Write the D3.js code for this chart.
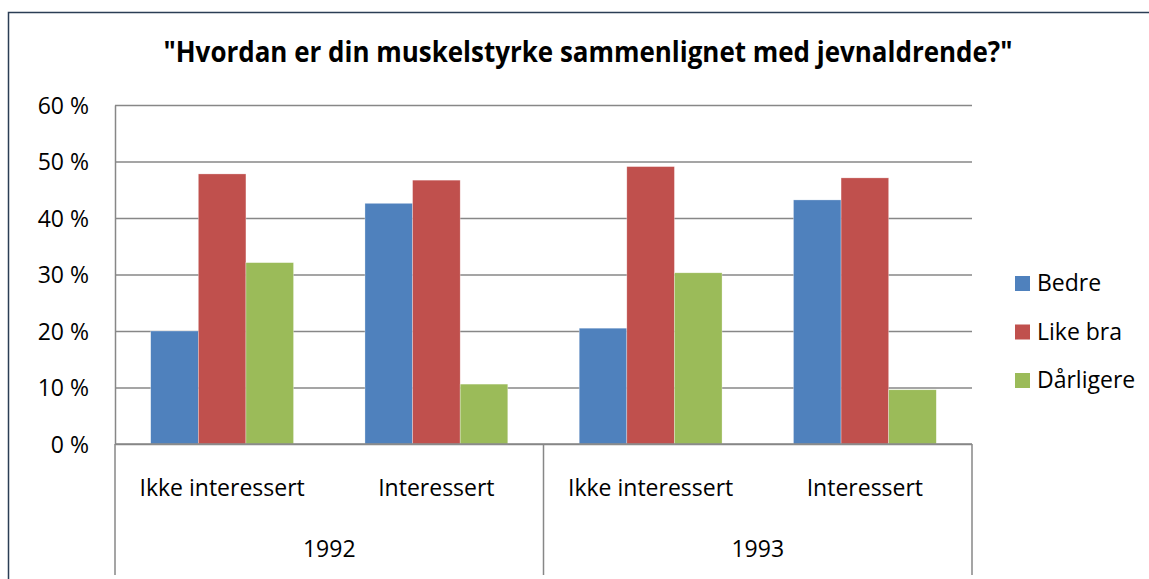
<!DOCTYPE html>
<html>
<head>
<meta charset="utf-8">
<script src="https://cdn.jsdelivr.net/npm/d3@7"></script>
<style>
  body { margin: 0; background: #fff; }
  text { font-family: "Open Sans", "Noto Sans", sans-serif; fill: #000; }
</style>
</head>
<body>
<script>
var W = 1149, H = 579;

// data
var years = ["1992", "1993"];
var groups = ["Ikke interessert", "Interessert"];
var seriesNames = ["Bedre", "Like bra", "Dårligere"];
var bedre    = [0.200, 0.426, 0.205, 0.432];
var likeBra  = [0.478, 0.467, 0.491, 0.471];
var darligere = [0.321, 0.106, 0.303, 0.096];
var yTicks = [0, 0.1, 0.2, 0.3, 0.4, 0.5, 0.6];
var colors = ["#4F81BD", "#C0504D", "#9BBB59"];

var title = "\"Hvordan er din muskelstyrke sammenlignet med jevnaldrende?\"";

var seriesValues = [bedre, likeBra, darligere];

// one entry per bar-cluster: year + group
var cats = [];
years.forEach(function (yr) {
    groups.forEach(function (g) { cats.push({year: yr, group: g, key: yr + "|" + g}); });
});

var plot = {left: 115, right: 972, top: 105, bottom: 444};

var svg = d3.select("body").append("svg")
    .attr("width", W)
    .attr("height", H);

// chart area border (only top and left visible in frame)
svg.append("path")
   .attr("d", "M8.5," + (H + 5) + "V12.5H" + (W + 5))
   .attr("fill", "none")
   .attr("stroke", "#2b3d55")
   .attr("stroke-width", 1.5);

var x0 = d3.scaleBand()
    .domain(cats.map(d => d.key))
    .range([plot.left, plot.right]);

var x1 = d3.scaleBand()
    .domain(seriesNames)
    .range([0, x0.bandwidth()])
    .paddingOuter(0.75);

var y = d3.scaleLinear()
    .domain([0, 0.6])
    .range([plot.bottom, plot.top]);

// gridlines
svg.append("g")
   .attr("transform", "translate(" + plot.left + ",0)")
   .call(d3.axisLeft(y).tickValues(yTicks).tickSize(-(plot.right - plot.left)).tickFormat(""))
   .call(g => g.select(".domain").remove())
   .call(g => g.selectAll("line").attr("stroke", "#878787").attr("stroke-width", 1.5));

// y labels
var yAxis = svg.append("g")
   .attr("transform", "translate(" + plot.left + ",0)")
   .call(d3.axisLeft(y).tickValues(yTicks).tickSize(0).tickPadding(26)
        .tickFormat(d => Math.round(d * 100) + " %"));
yAxis.select(".domain").attr("stroke", "#878787").attr("stroke-width", 1.5);
yAxis.selectAll("text")
   .attr("font-size", "23px")
   .attr("dy", "0.36em")
   .style("font-family", "'Open Sans', sans-serif")
   .attr("fill", "#000");

// bars
var bars = [];
seriesValues.forEach(function (vals, si) {
    vals.forEach(function (v, ci) {
        bars.push({cat: cats[ci].key, series: seriesNames[si], value: v, color: colors[si]});
    });
});

svg.append("g").selectAll("rect")
   .data(bars)
   .enter()
   .append("rect")
   .attr("x", d => x0(d.cat) + x1(d.series))
   .attr("y", d => y(d.value))
   .attr("width", x1.bandwidth())
   .attr("height", d => y(0) - y(d.value))
   .attr("fill", d => d.color)
   .attr("stroke", "rgba(255,255,255,0.5)")
   .attr("stroke-width", 0.6);

// baseline of category axis
svg.append("line")
   .attr("x1", plot.left).attr("x2", plot.right)
   .attr("y1", plot.bottom).attr("y2", plot.bottom)
   .attr("stroke", "#878787").attr("stroke-width", 1.5);

// multi-level category axis: dividers at the year edges
var yearScale = d3.scaleBand().domain(years).range([plot.left, plot.right]);
var dividers = [plot.left].concat(years.map(yr => yearScale(yr) + yearScale.bandwidth()));
svg.append("g").selectAll("line")
   .data(dividers)
   .enter()
   .append("line")
   .attr("x1", d => d).attr("x2", d => d)
   .attr("y1", plot.bottom).attr("y2", 575)
   .attr("stroke", "#878787").attr("stroke-width", 1.5);

svg.append("g").selectAll("text")
   .data(cats)
   .enter()
   .append("text")
   .attr("x", d => x0(d.key) + x0.bandwidth() / 2)
   .attr("y", 496)
   .attr("text-anchor", "middle")
   .attr("font-size", "23px")
   .text(d => d.group);

svg.append("g").selectAll("text")
   .data(years)
   .enter()
   .append("text")
   .attr("x", d => yearScale(d) + yearScale.bandwidth() / 2)
   .attr("y", 557)
   .attr("text-anchor", "middle")
   .attr("font-size", "23px")
   .text(d => d);

// title, stretched to the width it has in the original
svg.append("text")
   .attr("x", 588)
   .attr("y", 62)
   .attr("text-anchor", "middle")
   .attr("font-weight", "bold")
   .attr("font-size", "28px")
   .attr("textLength", 849)
   .attr("lengthAdjust", "spacingAndGlyphs")
   .text(title);

// legend
var legend = svg.append("g").selectAll("g")
   .data(seriesNames)
   .enter()
   .append("g")
   .attr("transform", (d, i) => "translate(1015," + (276 + i * 48.5) + ")");

legend.append("rect")
   .attr("width", 15).attr("height", 15)
   .attr("fill", (d, i) => colors[i]);

legend.append("text")
   .attr("x", 22)
   .attr("y", 15)
   .attr("font-size", "23px")
   .text(d => d);
</script>
</body>
</html>
